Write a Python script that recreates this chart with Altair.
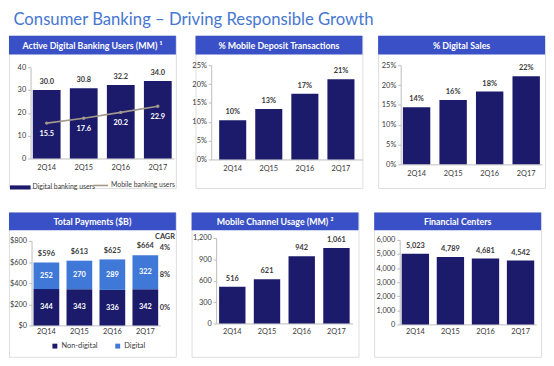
import altair as alt
import pandas as pd

# ---------------- data ----------------
quarters = ["2Q14", "2Q15", "2Q16", "2Q17"]
panel_titles = [
    "Active Digital Banking Users (MM) \u00b9",
    "% Mobile Deposit Transactions",
    "% Digital Sales",
    "Total Payments ($B)",
    "Mobile Channel Usage (MM) \u00b2",
    "Financial Centers",
]
main_title = "Consumer Banking \u2013 Driving Responsible Growth"

digital_users = [30.0, 30.8, 32.2, 34.0]
mobile_users = [15.5, 17.6, 20.2, 22.9]
series_p1 = ["Digital banking users", "Mobile banking users"]

mobile_deposit_pct = [0.104, 0.134, 0.174, 0.213]
digital_sales_pct = [0.144, 0.162, 0.184, 0.222]

pay_nondigital = [344, 343, 336, 342]
pay_digital = [252, 270, 289, 322]
pay_total = [596, 613, 625, 664]
pay_series = ["Non-digital", "Digital"]
cagr_labels = ["CAGR", "4%", "8%", "0%"]
cagr_y = [837, 735, 473, 165]

mobile_usage = [516, 621, 942, 1061]
financial_centers = [5023, 4789, 4681, 4542]

# ---------------- style ----------------
HDR = "#3A50C6"
NAVY = "#1C1B6B"
BEIGE = "#EAE7DE"
LIGHT = "#3F78D6"
TAN = "#A3988A"
TITLE_C = "#4677D1"
FONT = "Lato"
LBL = "#3A3A3A"
AX = "#BDBDBD"

W = 170
H1 = 155
H2 = 147


def header(title, h):
    d = alt.Data(values=[{"t": title}])
    r = alt.Chart(d).mark_rect(color=HDR).encode(
        x=alt.value(0), x2=alt.value(W), y=alt.value(0), y2=alt.value(h))
    t = alt.Chart(d).mark_text(color="white", font=FONT, fontWeight="bold",
                               fontSize=9, align="center", baseline="middle").encode(
        x=alt.value(W / 2), y=alt.value(h / 2 + 0.5), text="t:N")
    return [r, t]


def xenc(rng, pi, po, off, lp):
    return alt.X("q:N", sort=quarters, title=None,
                 scale=alt.Scale(range=rng, paddingInner=pi, paddingOuter=po),
                 axis=alt.Axis(offset=off, ticks=False, labelPadding=lp, labelAngle=0,
                               domainColor=AX, labelFont=FONT, labelFontSize=7.5,
                               labelColor=LBL, grid=False))


def yaxis(off, values, fmt):
    return alt.Axis(offset=off, values=values, format=fmt, domainColor=AX, tickColor=AX,
                    tickSize=3, labelPadding=2, labelFont=FONT, labelFontSize=7.5,
                    labelColor=LBL, grid=False, labelOverlap=False)


def simple_panel(title, values, h, hh, xr, pi, po, xoff, lp, yr, ydom, yoff, yvals, yfmt, tfmt):
    df = pd.DataFrame({"q": quarters, "v": values})
    X = xenc(xr, pi, po, xoff, lp)
    Y = alt.Y("v:Q", title=None, scale=alt.Scale(domain=ydom, range=yr),
              axis=yaxis(yoff, yvals, yfmt))
    bars = alt.Chart(df).mark_bar(color=NAVY).encode(x=X, y=Y)
    lab = alt.Chart(df).mark_text(font=FONT, fontWeight="bold", fontSize=7.5, color=LBL,
                                  baseline="bottom", dy=-4).encode(
        x=X, y=Y, text=alt.Text("v:Q", format=tfmt))
    return alt.layer(*header(title, hh), bars, lab).properties(width=W, height=h)


# ---- panel 1 ----
df1 = pd.DataFrame({"q": quarters, "v": digital_users, "m": mobile_users,
                    "s": series_p1[0], "s2": series_p1[1]})
X1 = xenc([22, 168], 0.25, 0.06, -30, 5)
S1 = alt.Scale(domain=[0, 40], range=[125, 32])
A1 = yaxis(-22, [0, 10, 20, 30, 40], "d")
Y1 = alt.Y("v:Q", title=None, scale=S1, axis=A1)
Ym = alt.Y("m:Q", title=None, scale=S1, axis=A1)
p1_bars = alt.Chart(df1).mark_bar().encode(
    x=X1, y=Y1,
    fill=alt.Fill("s:N", title=None, scale=alt.Scale(domain=[series_p1[0]], range=[NAVY]),
                  legend=alt.Legend(orient="none", legendX=1, legendY=144,
                                    symbolType="M-1,-0.2H1V0.2H-1Z", symbolSize=440,
                                    symbolStrokeWidth=0, labelFont=FONT, labelFontSize=7,
                                    labelColor=LBL, labelOffset=2, padding=0)))
p1_lab = alt.Chart(df1).mark_text(font=FONT, fontWeight="bold", fontSize=7.5, color=LBL,
                                  baseline="bottom", dy=-4).encode(
    x=X1, y=Y1, text=alt.Text("v:Q", format=".1f"))
p1_line = alt.Chart(df1).mark_line(strokeWidth=1.6).encode(
    x=X1, y=Ym,
    stroke=alt.Stroke("s2:N", title=None, scale=alt.Scale(domain=[series_p1[1]], range=[TAN]),
                      legend=alt.Legend(orient="none", legendX=85, legendY=144,
                                        symbolSize=230, symbolStrokeWidth=1.6,
                                        labelFont=FONT, labelFontSize=7,
                                        labelColor=LBL, labelOffset=2, padding=0)))
p1_pts = alt.Chart(df1).mark_point(filled=True, size=12, color=TAN, opacity=1).encode(x=X1, y=Ym)
p1_mlab = alt.Chart(df1).mark_text(font=FONT, fontWeight="bold", fontSize=7.5, color="white",
                                   baseline="middle", dy=11).encode(
    x=X1, y=Ym, text=alt.Text("m:Q", format=".1f"))
p1 = alt.layer(*header(panel_titles[0], 19), p1_bars, p1_lab, p1_line, p1_pts, p1_mlab).properties(
    width=W, height=H1)

# ---- panels 2, 3 ----
p2 = simple_panel(panel_titles[1], mobile_deposit_pct, H1, 19, [16, 170], 0.25, 0.22, -29, 5,
                  [126, 30], [0, 0.25], -16, [0, 0.05, 0.1, 0.15, 0.2, 0.25], ".0%", ".0%")
p3 = simple_panel(panel_titles[2], digital_sales_pct, H1, 19, [23, 167], 0.25, 0.06, -24, 5,
                  [131, 30], [0, 0.25], -23, [0, 0.05, 0.1, 0.15, 0.2, 0.25], ".0%", ".0%")

# ---- panel 4 : total payments ----
rows = []
for i, q in enumerate(quarters):
    rows.append({"q": q, "seg": pay_series[0], "v": pay_nondigital[i], "o": 0,
                 "mid": pay_nondigital[i] / 2})
    rows.append({"q": q, "seg": pay_series[1], "v": pay_digital[i], "o": 1,
                 "mid": pay_nondigital[i] + pay_digital[i] / 2})
df4 = pd.DataFrame(rows)
df4t = pd.DataFrame({"q": quarters, "t": pay_total})
df4c = pd.DataFrame({"q": quarters[-1], "lab": cagr_labels, "y": cagr_y})
X4 = xenc([23, 154], 0.22, 0.06, -32, 2)
S4 = alt.Scale(domain=[0, 800], range=[115, 29])
A4 = yaxis(-23, [0, 200, 400, 600, 800], "$,.0f")
p4_bars = alt.Chart(df4).mark_bar().encode(
    x=X4, y=alt.Y("v:Q", title=None, scale=S4, axis=A4),
    fill=alt.Fill("seg:N", title=None, scale=alt.Scale(domain=pay_series, range=[NAVY, LIGHT]),
                  legend=alt.Legend(orient="none", legendX=43, legendY=132, direction="horizontal",
                                    symbolType="square", symbolSize=25, symbolStrokeWidth=0,
                                    labelFont=FONT, labelFontSize=7.5, labelColor=LBL,
                                    labelOffset=3, columnPadding=16, padding=0)),
    order=alt.Order("o:Q"))
p4_seg = alt.Chart(df4).mark_text(font=FONT, fontWeight="bold", fontSize=7.5, color="white",
                                  baseline="middle").encode(
    x=X4, y=alt.Y("mid:Q", title=None, scale=S4, axis=A4), text=alt.Text("v:Q", format="d"))
p4_tot = alt.Chart(df4t).mark_text(font=FONT, fontWeight="bold", fontSize=7.5, color=LBL,
                                   baseline="bottom", dy=-5).encode(
    x=X4, y=alt.Y("t:Q", title=None, scale=S4, axis=A4), text=alt.Text("t:Q", format="$,.0f"))
p4_cagr = alt.Chart(df4c).mark_text(font=FONT, fontWeight="bold", fontSize=7.5, color=LBL,
                                    baseline="middle", dx=20).encode(
    x=X4, y=alt.Y("y:Q", title=None, scale=S4, axis=A4), text="lab:N")
p4 = alt.layer(*header(panel_titles[3], 18), p4_bars, p4_seg, p4_tot, p4_cagr).properties(
    width=W, height=H2)

# ---- panels 5, 6 ----
p5 = simple_panel(panel_titles[4], mobile_usage, H2, 18, [25, 164], 0.24, 0.085, -34, 4,
                  [113, 26], [0, 1200], -25, [0, 300, 600, 900, 1200], ",.0f", ",.0f")
p6 = simple_panel(panel_titles[5], financial_centers, H2, 18, [26, 165], 0.22, 0.056, -33, 3,
                  [114, 28], [0, 6000], -26, [0, 1000, 2000, 3000, 4000, 5000, 6000], ",.0f", ",.0f")

row1 = alt.hconcat(p1, p2, p3, spacing=14).resolve_scale(fill="independent", stroke="independent")
row2 = alt.hconcat(p4, p5, p6, spacing=14).resolve_scale(fill="independent", stroke="independent")

chart = alt.vconcat(
    row1, row2, spacing=20, padding=0,
    title=alt.Title(main_title, anchor="start", font=FONT, fontSize=17, fontWeight="normal",
                    color=TITLE_C, offset=6, dx=5),
).resolve_scale(fill="independent", stroke="independent").configure_view(
    fill=BEIGE, strokeWidth=0).configure(background="white")

chart.save("out.html", embed_options={"renderer": "svg", "actions": False})
